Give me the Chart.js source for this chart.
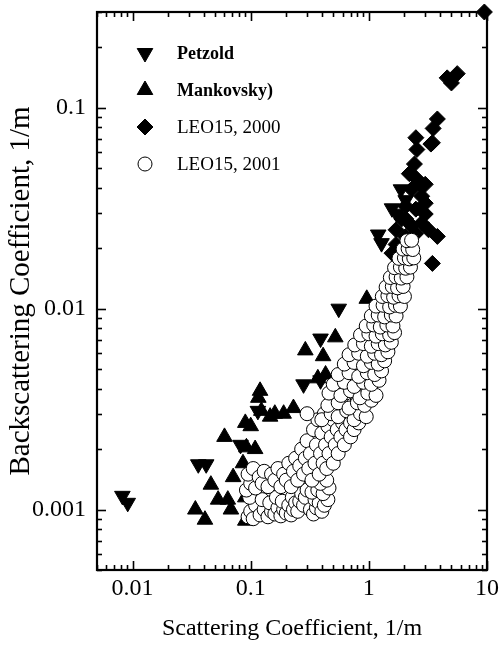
<!DOCTYPE html>
<html>
<head>
<meta charset="utf-8">
<script src="https://cdn.jsdelivr.net/npm/chart.js@4"></script>
<style>
  html, body { margin: 0; padding: 0; background: #fff; }
  #wrap { width: 500px; height: 647px; }
</style>
</head>
<body>
<div id="wrap"><canvas id="c" width="500" height="647"></canvas></div>
<script>
// ---------------- data ----------------
const seriesNames = ['Petzold', 'Mankovsky)', 'LEO15, 2000', 'LEO15, 2001'];

const petzold = [
  [0.0082,0.00117],[0.0091,0.00108],[0.036,0.00168],[0.042,0.00168],[0.082,0.0021],
  [0.115,0.0031],[0.28,0.0042],[0.39,0.0044],[0.39,0.0071],[0.556,0.0100],
  [1.2,0.0234],[1.28,0.0212],[1.57,0.0316],[1.72,0.0297],[1.87,0.0393],[2.05,0.0347]
];

const mankovsky = [
  [0.96,0.0112],[0.52,0.0072],[0.29,0.0062],[0.41,0.0058],[0.43,0.0047],[0.37,0.0045],
  [0.77,0.0057],[0.116,0.0036],[0.123,0.0031],[0.146,0.0029],[0.16,0.0030],[0.19,0.0030],
  [0.23,0.0032],[0.10,0.0026],[0.09,0.0027],[0.109,0.0020],[0.06,0.0023],[0.092,0.00204],
  [0.086,0.0017],[0.071,0.00145],[0.046,0.00133],[0.053,0.00112],[0.064,0.00112],
  [0.034,0.0010],[0.041,0.00089],[0.068,0.0010],[0.09,0.00115],[0.09,0.00088],[0.12,0.0039]
];

const leo2000 = [
  [9.5,0.30],[4.6,0.141],[5.6,0.148],[5.0,0.133],[3.8,0.088],[3.5,0.079],[3.45,0.067],
  [2.5,0.071],[2.55,0.062],[3.35,0.066],[2.43,0.0525],[2.5,0.0447],[3.0,0.0416],[2.3,0.0393],
  [2.8,0.0363],[2.05,0.0324],[2.5,0.0313],[3.0,0.0296],[1.9,0.028],[2.3,0.0259],[2.8,0.0267],
  [1.7,0.0247],[2.05,0.0229],[2.5,0.0237],[3.2,0.0247],[3.8,0.0229],[1.7,0.0209],[1.57,0.0189],
  [3.45,0.0168],[2.05,0.028],[3.0,0.0335],[2.68,0.042],[2.2,0.047]
];

const leo2001 = [
  [0.095,0.00092],[0.10,0.00098],[0.105,0.00090],[0.11,0.00105],[0.098,0.00115],[0.12,0.00094],
  [0.13,0.00100],[0.125,0.00112],[0.14,0.00092],[0.15,0.00098],[0.145,0.00108],[0.16,0.00095],
  [0.17,0.00102],[0.165,0.00115],[0.18,0.00093],[0.19,0.00100],[0.185,0.00110],[0.20,0.00096],
  [0.21,0.00105],[0.22,0.00094],[0.23,0.00100],[0.225,0.00115],[0.24,0.00108],[0.25,0.00098],
  [0.26,0.00110],[0.27,0.00120],[0.28,0.00105],[0.29,0.00115],[0.30,0.00125],
  [0.092,0.00125],[0.10,0.00135],[0.095,0.00150],[0.105,0.00160],[0.11,0.00128],[0.118,0.00145],
  [0.125,0.00135],[0.13,0.00155],
  [0.32,0.00100],[0.34,0.00095],[0.36,0.00102],[0.35,0.00112],[0.38,0.00108],[0.40,0.00098],
  [0.42,0.00105],[0.45,0.00112],[0.33,0.00122],[0.37,0.00125],[0.41,0.00120],[0.46,0.00128],
  [0.39,0.00135],[0.44,0.00140],
  [0.14,0.00130],[0.15,0.00150],[0.16,0.00140],[0.17,0.00160],[0.18,0.00130],[0.19,0.00150],
  [0.20,0.00140],[0.21,0.00170],[0.22,0.00130],[0.23,0.00155],[0.24,0.00180],[0.25,0.00140],
  [0.26,0.00165],[0.27,0.00200],[0.28,0.00150],[0.29,0.00180],[0.30,0.00220],[0.31,0.00160],
  [0.32,0.00190],[0.33,0.00140],[0.34,0.00250],[0.35,0.00170],[0.36,0.00210],[0.37,0.00280],
  [0.38,0.00150],[0.39,0.00190],[0.40,0.00240],[0.41,0.00170],[0.42,0.00300],[0.43,0.00210],
  [0.44,0.00160],[0.45,0.00260],[0.46,0.00190],[0.47,0.00330],[0.48,0.00230],[0.50,0.00170],
  [0.50,0.00280],[0.52,0.00210],[0.53,0.00360],[0.54,0.00250],[0.55,0.00190],[0.56,0.00310],
  [0.58,0.00230],[0.58,0.00400],[0.60,0.00270],[0.62,0.00210],[0.62,0.00340],[0.64,0.00250],
  [0.65,0.00430],[0.66,0.00300],[0.68,0.00380],[0.70,0.00230],[0.70,0.00270],[0.72,0.00330],
  [0.74,0.00460],[0.75,0.00250],[0.76,0.00400],[0.78,0.00300],[0.80,0.00350],[0.82,0.00270],
  [0.84,0.00430],[0.86,0.00320],[0.88,0.00380],[0.90,0.00300],[0.92,0.00350],[0.93,0.00420],
  [0.30,0.0030],[0.40,0.0028],[0.48,0.0030],[0.55,0.0029],[0.65,0.0031],[0.75,0.0028],
  [0.85,0.0030],[0.95,0.0029],
  [0.45,0.0033],[0.55,0.0034],[0.68,0.0032],[0.80,0.0034],[0.92,0.0033],[1.05,0.0035],
  [0.46,0.0038],[0.58,0.0037],[0.70,0.0039],[0.84,0.0036],[0.98,0.0038],[1.15,0.0037],
  [0.50,0.0042],[0.62,0.0043],[0.75,0.0041],[0.90,0.0043],[1.05,0.0042],[1.22,0.0044],
  [0.55,0.0047],[0.68,0.0048],[0.82,0.0046],[0.97,0.0048],[1.12,0.0047],[1.28,0.0049],
  [0.62,0.0053],[0.75,0.0054],[0.90,0.0052],[1.05,0.0054],[1.20,0.0053],[1.36,0.0055],
  [0.68,0.0059],[0.82,0.0060],[0.97,0.0058],[1.12,0.0060],[1.28,0.0059],[1.45,0.0061],
  [0.76,0.0066],[0.90,0.0067],[1.05,0.0065],[1.20,0.0067],[1.38,0.0066],[1.55,0.0068],
  [0.85,0.0074],[1.00,0.0075],[1.15,0.0073],[1.30,0.0075],[1.50,0.0074],[1.65,0.0076],
  [0.95,0.0082],[1.10,0.0083],[1.25,0.0081],[1.42,0.0083],[1.60,0.0082],
  [1.05,0.0092],[1.20,0.0093],[1.36,0.0091],[1.55,0.0093],[1.70,0.0092],
  [1.15,0.0103],[1.32,0.0104],[1.50,0.0102],[1.68,0.0104],[1.85,0.0103],
  [1.30,0.0115],[1.45,0.0116],[1.62,0.0114],[1.80,0.0116],[2.00,0.0115],
  [1.40,0.0128],[1.58,0.0129],[1.75,0.0127],[1.95,0.0129],
  [1.52,0.0143],[1.70,0.0144],[1.88,0.0142],[2.10,0.0144],
  [1.65,0.0160],[1.85,0.0161],[2.05,0.0159],[2.25,0.0161],
  [1.80,0.0178],[2.00,0.0179],[2.20,0.0177],[2.40,0.0179],
  [1.95,0.0198],[2.15,0.0199],[2.35,0.0197],
  [2.10,0.0218],[2.30,0.0219]
];

// axis ticks
const xMajor = [0.01, 0.1, 1, 10];
const xMajorLabels = ['0.01', '0.1', '1', '10'];
const xMinor = [0.005,0.006,0.007,0.008,0.009,0.02,0.03,0.04,0.05,0.06,0.07,0.08,0.09,
                0.2,0.3,0.4,0.5,0.6,0.7,0.8,0.9,2,3,4,5,6,7,8,9];
const yMajor = [0.001, 0.01, 0.1];
const yMajorLabels = ['0.001', '0.01', '0.1'];
const yMinor = [0.0005,0.0006,0.0007,0.0008,0.0009,0.002,0.003,0.004,0.005,0.006,0.007,0.008,0.009,
                0.02,0.03,0.04,0.05,0.06,0.07,0.08,0.09,0.2,0.3];

const xTitle = 'Scattering Coefficient, 1/m';
const yTitle = 'Backscattering Coefficient, 1/m';

// --------------- chart -----------------
const toPts = arr => arr.map(p => ({x: p[0], y: p[1]}));
const SERIF = '"Liberation Serif", "Times New Roman", serif';

function buildTicks(major, minor) {
  return major.map(v => ({value: v, major: true}))
    .concat(minor.map(v => ({value: v, major: false})))
    .sort((a, b) => a.value - b.value);
}

const styles = [
  {pointStyle: 'triangle', rotation: 180, radius: 9, bg: '#000', border: '#000'},
  {pointStyle: 'triangle', rotation: 0, radius: 9, bg: '#000', border: '#000'},
  {pointStyle: 'rectRot', rotation: 0, radius: 8, bg: '#000', border: '#000'},
  {pointStyle: 'circle', rotation: 0, radius: 7, bg: '#fff', border: '#000'}
];
const sets = [petzold, mankovsky, leo2000, leo2001];
const orders = [3, 2, 1, 0];

const datasets = sets.map((s, i) => ({
  label: seriesNames[i],
  data: toPts(s),
  pointStyle: styles[i].pointStyle,
  rotation: styles[i].rotation,
  pointRadius: styles[i].radius,
  pointHoverRadius: styles[i].radius,
  backgroundColor: styles[i].bg,
  borderColor: styles[i].border,
  borderWidth: 1,
  clip: false,
  order: orders[i]
}));

function strokeLine(ctx, x1, y1, x2, y2) {
  ctx.beginPath(); ctx.moveTo(x1, y1); ctx.lineTo(x2, y2); ctx.stroke();
}

const frameTicks = {
  id: 'frameTicks',
  beforeDatasetsDraw(chart) {
    const {ctx, chartArea: a} = chart;
    const xs = chart.scales.x, ys = chart.scales.y;
    ctx.save();
    ctx.strokeStyle = '#000';
    ctx.lineWidth = 1.6;
    xs.ticks.forEach(t => {
      const p = Math.round(xs.getPixelForValue(t.value)) + 0.5;
      const len = t.major ? 9 : 5;
      strokeLine(ctx, p, a.bottom, p, a.bottom - len);
      strokeLine(ctx, p, a.top, p, a.top + len);
    });
    ys.ticks.forEach(t => {
      const p = Math.round(ys.getPixelForValue(t.value)) + 0.5;
      const len = t.major ? 9 : 5;
      strokeLine(ctx, a.left, p, a.left + len, p);
      strokeLine(ctx, a.right, p, a.right - len, p);
    });
    ctx.lineWidth = 2.2;
    ctx.strokeRect(a.left, a.top, a.right - a.left, a.bottom - a.top);
    ctx.restore();
  }
};

function drawMarker(ctx, st, x, y) {
  ctx.save();
  ctx.fillStyle = st.bg; ctx.strokeStyle = st.border; ctx.lineWidth = 1;
  const r = st.radius;
  ctx.beginPath();
  if (st.pointStyle === 'circle') {
    ctx.arc(x, y, r, 0, Math.PI * 2);
  } else if (st.pointStyle === 'rectRot') {
    ctx.moveTo(x, y - r); ctx.lineTo(x + r, y); ctx.lineTo(x, y + r); ctx.lineTo(x - r, y);
  } else {
    const s = st.rotation === 180 ? -1 : 1;
    ctx.moveTo(x, y - s * r);
    ctx.lineTo(x + r * Math.sqrt(3) / 2, y + s * r / 2);
    ctx.lineTo(x - r * Math.sqrt(3) / 2, y + s * r / 2);
  }
  ctx.closePath(); ctx.fill(); ctx.stroke();
  ctx.restore();
}

const insideLegend = {
  id: 'insideLegend',
  afterDraw(chart) {
    const {ctx, chartArea: a} = chart;
    const fonts = ['bold 18px ' + SERIF, 'bold 18px ' + SERIF, '19px ' + SERIF, '19px ' + SERIF];
    ctx.save();
    seriesNames.forEach((name, i) => {
      const y = a.top + 41 + i * 37;
      drawMarker(ctx, styles[i], a.left + 48, y);
      ctx.font = fonts[i];
      ctx.fillStyle = '#000';
      ctx.textBaseline = 'middle';
      ctx.textAlign = 'left';
      ctx.fillText(name, a.left + 80, y + 1);
    });
    ctx.restore();
  }
};

new Chart(document.getElementById('c'), {
  type: 'scatter',
  data: {datasets},
  plugins: [frameTicks, insideLegend],
  options: {
    responsive: false,
    animation: false,
    layout: {padding: {top: 12, right: 13, left: 0, bottom: 0}},
    plugins: {legend: {display: false}, tooltip: {enabled: false}},
    scales: {
      x: {
        type: 'logarithmic',
        min: 0.005, max: 10,
        afterBuildTicks: s => { s.ticks = buildTicks(xMajor, xMinor); },
        afterFit: s => { s.height = 77; s.paddingLeft = 0; s.paddingRight = 0; },
        grid: {display: false, drawTicks: false},
        border: {display: false},
        ticks: {
          autoSkip: false, maxRotation: 0, padding: 4, color: '#000',
          font: {family: SERIF, size: 24},
          callback: v => { const k = xMajor.indexOf(v); return k >= 0 ? xMajorLabels[k] : ''; }
        },
        title: {display: true, text: xTitle, color: '#000',
                font: {family: SERIF, size: 24}, padding: {top: 0, bottom: 4}}
      },
      y: {
        type: 'logarithmic',
        min: 0.0005, max: 0.3,
        afterBuildTicks: s => { s.ticks = buildTicks(yMajor, yMinor); },
        afterFit: s => { s.width = 97; s.paddingTop = 0; s.paddingBottom = 0; },
        grid: {display: false, drawTicks: false},
        border: {display: false},
        ticks: {
          autoSkip: false, padding: 11, color: '#000',
          font: {family: SERIF, size: 24},
          callback: v => { const k = yMajor.indexOf(v); return k >= 0 ? yMajorLabels[k] : ''; }
        },
        title: {display: true, text: yTitle, color: '#000',
                font: {family: SERIF, size: 29}, padding: {top: 4, bottom: 0}}
      }
    }
  }
});
</script>
</body>
</html>
